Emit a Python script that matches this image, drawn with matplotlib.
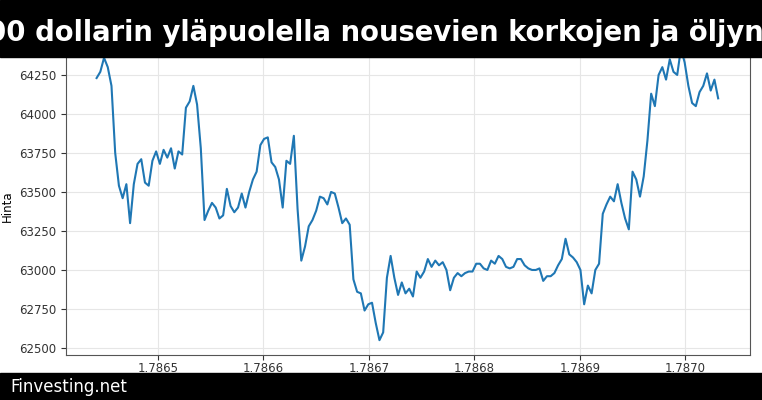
import matplotlib.pyplot as plt
import numpy as np

title = "Bitcoin 64 000 dollarin yläpuolella nousevien korkojen ja öljyn hinnan"
footer = "Finvesting.net"

t_start = 1.786442
t_end = 1.787031
price = [
    64230, 64270, 64360, 64300, 64180, 63750, 63540, 63460, 63550, 63300,
    63550, 63680, 63710, 63560, 63540, 63700, 63760, 63680, 63770, 63720,
    63780, 63650, 63760, 63740, 64040, 64080, 64180, 64060, 63780, 63320,
    63380, 63430, 63400, 63330, 63350, 63520, 63410, 63370, 63400, 63490,
    63400, 63500, 63580, 63630, 63800, 63840, 63850, 63690, 63660, 63580,
    63400, 63700, 63680, 63860, 63390, 63060, 63150, 63280, 63320, 63380,
    63470, 63460, 63420, 63500, 63490, 63400, 63300, 63330, 63290, 62940,
    62860, 62850, 62740, 62780, 62790, 62660, 62550, 62600, 62950, 63090,
    62950, 62840, 62920, 62850, 62880, 62830, 62990, 62950, 62990, 63070,
    63020, 63060, 63030, 63050, 63000, 62870, 62950, 62980, 62960, 62980,
    62990, 62990, 63040, 63040, 63010, 63000, 63060, 63040, 63090, 63070,
    63020, 63010, 63020, 63070, 63070, 63030, 63010, 63000, 63000, 63010,
    62930, 62960, 62960, 62980, 63030, 63070, 63200, 63100, 63080, 63050,
    63000, 62780, 62900, 62850, 63000, 63040, 63360, 63420, 63470, 63440,
    63550, 63430, 63330, 63260, 63630, 63580, 63470, 63600, 63830, 64130,
    64050, 64250, 64300, 64220, 64350, 64270, 64250, 64420, 64330, 64180,
    64070, 64050, 64140, 64180, 64260, 64150, 64220, 64100,
]
time = np.linspace(t_start, t_end, len(price))

fig = plt.figure(figsize=(7.62, 4), dpi=100)
ax = fig.add_axes([0.0866, 0.1125, 0.8974, 0.745])
ax.plot(time, price, color="#1f77b4", lw=1.5)
ax.set_xlim(1.786413, 1.787061)
ax.set_ylim(62455, 64365)
ax.set_xticks([1.7865, 1.7866, 1.7867, 1.7868, 1.7869, 1.7870])
ax.set_xticklabels(["1.7865", "1.7866", "1.7867", "1.7868", "1.7869", "1.7870"])
ax.set_yticks(np.arange(62500, 64251, 250))
ax.tick_params(labelsize=8.5, colors="#333333")
ax.tick_params(axis="x", pad=1.5)
ax.grid(True, color="#e6e6e6", lw=0.8)
ax.set_ylabel("Hinta", fontsize=8.5)
for s in ax.spines.values():
    s.set_color("#555555")

fig.patches.append(plt.Rectangle((0, 400 - 57), 762, 57, transform=None,
                                 color="black", zorder=5))
fig.patches.append(plt.Rectangle((0, 0), 762, 27, transform=None,
                                 color="black", zorder=5))
fig.text(0.5 - 40 / 762, 1 - 33 / 400, title, ha="center", va="center",
         color="white", fontsize=19.8, fontweight="bold", zorder=6)
fig.text(10 / 762, 13 / 400, footer, ha="left", va="center", color="white",
         fontsize=12, zorder=6)

plt.savefig("out.png", dpi=100)
